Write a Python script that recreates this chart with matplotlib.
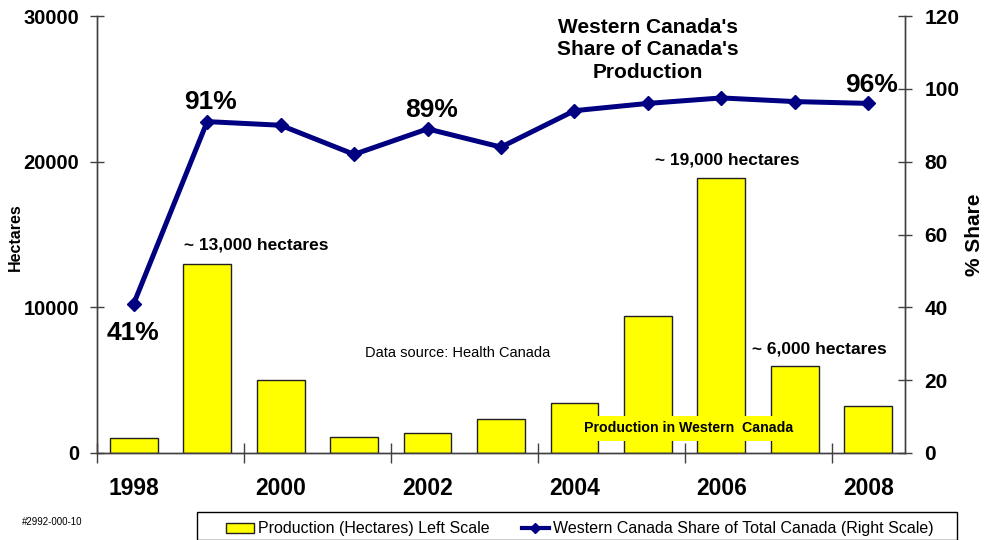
import matplotlib
matplotlib.use("Agg")
import matplotlib.pyplot as plt
from matplotlib.lines import Line2D
from matplotlib.patches import Patch, Rectangle

years = ["1998", "1999", "2000", "2001", "2002", "2003", "2004", "2005", "2006", "2007", "2008"]
production_ha = [1050, 13000, 5000, 1100, 1400, 2300, 3400, 9400, 18900, 6000, 3200]
share_pct = [41, 91, 90, 82, 89, 84, 94, 96, 97.5, 96.5, 96]
year_labels = ["1998", "2000", "2002", "2004", "2006", "2008"]

plt.rcParams['font.family'] = ['Liberation Sans', 'DejaVu Sans']

fig = plt.figure(figsize=(9.84, 5.40), dpi=100)
ax = fig.add_axes([97/984, 1 - 453/540, (905 - 97)/984, (453 - 16)/540])
ax2 = ax.twinx()

x = list(range(len(years)))
ax.bar(x, production_ha, width=0.65, color='#FFFF00', edgecolor='#202020', linewidth=1.0, zorder=2)
ax.set_xlim(-0.5, len(years) - 0.5)
ax.set_ylim(0, 30000)
ax.set_yticks([0, 10000, 20000, 30000])
ax.set_yticklabels(["0", "10000", "20000", "30000"], fontsize=14.5, fontweight='bold')

ax.set_xticks([-0.5, 1.5, 3.5, 5.5, 7.5, 9.5])
ax.set_xticklabels([])
ax.tick_params(axis='x', direction='inout', length=14, width=1, color='#404040')
ax.tick_params(axis='y', direction='inout', length=10, width=1, color='#404040', pad=8)
for i, lab in enumerate(year_labels):
    ax.text(2 * i, -0.082, lab, transform=ax.get_xaxis_transform(), ha='center', va='center',
            fontsize=16.5, fontweight='bold')

ax2.plot(x, share_pct, color='#000080', linewidth=3.6, marker='D', markersize=7.5, zorder=3)
ax2.set_ylim(0, 120)
ax2.set_yticks([0, 20, 40, 60, 80, 100, 120])
ax2.set_yticklabels(["0", "20", "40", "60", "80", "100", "120"], fontsize=15, fontweight='bold')
ax2.tick_params(axis='y', direction='inout', length=10, width=1, color='#404040', pad=9)

for a in (ax, ax2):
    a.spines['top'].set_visible(False)
    for s in ('left', 'right', 'bottom'):
        a.spines[s].set_color('#404040')
        a.spines[s].set_linewidth(1.0)
ax.set_zorder(ax2.get_zorder() - 1)
ax2.patch.set_visible(False)

fig.text(15/984, 1 - 237/540, "Hectares", rotation=90, ha='center', va='center', fontsize=11.5, fontweight='bold')
fig.text(965/984, 1 - 235/540, "% Share", rotation=90, ha='left', va='center', fontsize=15, fontweight='bold')

ax2.text(-0.01, 32.9, "41%", ha='center', va='center', fontsize=19, fontweight='bold')
ax2.text(1.05, 96.4, "91%", ha='center', va='center', fontsize=19, fontweight='bold')
ax2.text(4.06, 94.2, "89%", ha='center', va='center', fontsize=19, fontweight='bold')
ax2.text(10.05, 101, "96%", ha='center', va='center', fontsize=19, fontweight='bold')
ax2.text(7.0, 110.7, "Western Canada's\nShare of Canada's\nProduction", ha='center', va='center',
         fontsize=15, fontweight='bold', linespacing=1.22)
ax.text(1.665, 14280, "~ 13,000 hectares", ha='center', va='center', fontsize=12.5, fontweight='bold')
ax.text(8.08, 20110, "~ 19,000 hectares", ha='center', va='center', fontsize=12.5, fontweight='bold')
ax.text(9.34, 7140, "~ 6,000 hectares", ha='center', va='center', fontsize=12.5, fontweight='bold')
ax.text(4.41, 6860, "Data source: Health Canada", ha='center', va='center', fontsize=10.5)
ax.text(7.55, 1700, "Production in Western  Canada", ha='center', va='center', fontsize=10.2, fontweight='bold',
        bbox=dict(boxstyle='square,pad=0.4', facecolor='#FFFF00', edgecolor='none'), zorder=4)

fig.text(22/984, 1 - 522/540, "#2992-000-10", ha='left', va='center', fontsize=7)

fig.patches.append(Rectangle((197/984, 0), (957 - 197)/984, 1 - 512/540,
                             transform=fig.transFigure, facecolor='white', edgecolor='black',
                             linewidth=1.0, figure=fig))
handles = [Patch(facecolor='#FFFF00', edgecolor='#202020', linewidth=1.0),
           Line2D([0], [0], color='#000080', linewidth=3, marker='D', markersize=5.5)]
leg = fig.legend(handles, ["Production (Hectares) Left Scale", "Western Canada Share of Total Canada (Right Scale)"],
                 loc='center left', bbox_to_anchor=(226/984, 1 - 529/540), ncol=2, fontsize=11.5,
                 frameon=False, borderpad=0, handlelength=1.75, handleheight=0.6,
                 handletextpad=0.25, columnspacing=2.0, borderaxespad=0)

fig.savefig("out.png", dpi=100)
